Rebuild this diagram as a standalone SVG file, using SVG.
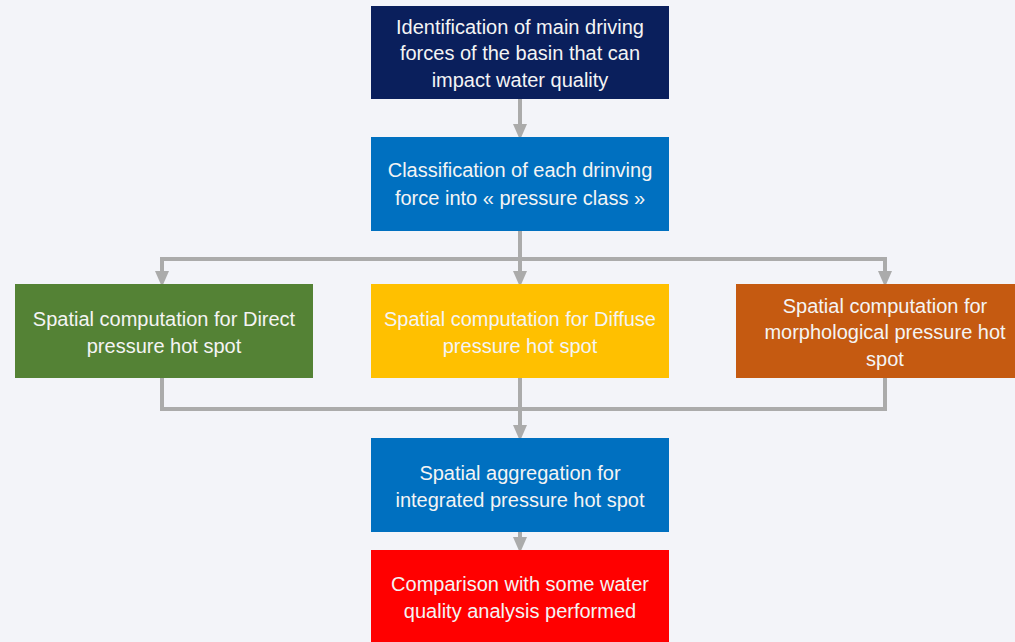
<svg xmlns="http://www.w3.org/2000/svg" width="1015" height="642" viewBox="0 0 1015 642">
<style>
.t{font-family:"Liberation Sans",Arial,sans-serif;font-size:20px;fill:#F4F4F4;text-anchor:middle}
.c{fill:none;stroke:#ABABAB;stroke-width:4}
</style>
<defs>
<marker id="ah" markerWidth="4" markerHeight="3.5" refX="0" refY="1.75" orient="auto" markerUnits="strokeWidth">
<path d="M0,0 L4,1.75 L0,3.5 Z" fill="#ABABAB"/>
</marker>
</defs>
<rect width="1015" height="642" fill="#F3F4F9"/>
<g id="connectors">
<path class="c" d="M520,99 V124" marker-end="url(#ah)"/>
<path class="c" d="M520,231 V271" marker-end="url(#ah)"/>
<path class="c" d="M162,271 V259 H885 V271" marker-end="url(#ah)"/>
<path class="c" d="M162,259 V271" marker-end="url(#ah)"/>
<path class="c" d="M162,378 V409 H885 V378"/>
<path class="c" d="M520,378 V425" marker-end="url(#ah)"/>
<path class="c" d="M520,532 V537" marker-end="url(#ah)"/>
</g>
<g id="n1"><rect x="371" y="6" width="298" height="93" fill="#0A1F5C"/>
<text class="t" x="520" y="34">Identification of main driving</text>
<text class="t" x="520" y="60">forces of the basin that can</text>
<text class="t" x="520" y="87">impact water quality</text></g>
<g id="n2"><rect x="371" y="137" width="298" height="94" fill="#0070C0"/>
<text class="t" x="520" y="177">Classification of each drinving</text>
<text class="t" x="520" y="205">force into « pressure class »</text></g>
<g id="n3"><rect x="15" y="284" width="298" height="94" fill="#548235"/>
<text class="t" x="164" y="326">Spatial computation for Direct</text>
<text class="t" x="164" y="353">pressure hot spot</text></g>
<g id="n4"><rect x="371" y="284" width="298" height="94" fill="#FFC000"/>
<text class="t" x="520" y="326">Spatial computation for Diffuse</text>
<text class="t" x="520" y="353">pressure hot spot</text></g>
<g id="n5"><rect x="736" y="284" width="290" height="94" fill="#C55A11"/>
<text class="t" x="885" y="313">Spatial computation for</text>
<text class="t" x="885" y="339">morphological pressure hot</text>
<text class="t" x="885" y="366">spot</text></g>
<g id="n6"><rect x="371" y="438" width="298" height="94" fill="#0070C0"/>
<text class="t" x="520" y="480">Spatial aggregation for</text>
<text class="t" x="520" y="507">integrated pressure hot spot</text></g>
<g id="n7"><rect x="371" y="550" width="298" height="100" fill="#FF0000"/>
<text class="t" x="520" y="591">Comparison with some water</text>
<text class="t" x="520" y="618">quality analysis performed</text></g>
</svg>
